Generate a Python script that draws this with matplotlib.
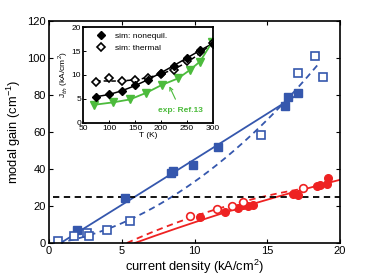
import numpy as np
import matplotlib.pyplot as plt

plt.rcParams["font.family"] = ["Liberation Sans", "DejaVu Sans"]
plt.rcParams["mathtext.fontset"] = "custom"
plt.rcParams["mathtext.rm"] = "Liberation Sans"

BLUE  = "#3557ad"
RED   = "#ee2222"
GREEN = "#4cbb3c"

# main panel: modal gain vs current density
blue_fill_x = [1.9, 5.2, 8.4, 8.55, 9.9, 11.6, 16.2, 16.4, 17.1]
blue_fill_y = [7.0, 24.1, 37.7, 39.1, 42.2, 51.7, 74.0, 78.7, 81.2]
blue_open_x = [0.64, 1.72, 2.63, 2.77, 3.96, 5.57, 14.6, 17.1, 18.3, 18.8]
blue_open_y = [1.1, 3.8, 5.6, 3.8, 7.0, 12.1, 58.4, 92.1, 101.1, 89.9]

red_fill_x = [10.4, 12.1, 13.0, 13.36, 13.7, 14.0, 16.8, 17.13, 18.4, 18.6, 19.08, 19.2]
red_fill_y = [13.9, 16.9, 18.7, 20.5, 20.0, 20.5, 26.5, 25.9, 30.8, 31.5, 31.9, 35.0]
red_open_x = [9.69, 11.52, 12.55, 13.36, 17.48]
red_open_y = [14.6, 18.2, 20.0, 22.3, 29.6]

# transparency points and end of each fit curve
blue_fill_x0, blue_fill_x1 = 0.8, 17.1
blue_open_x0, blue_open_x1 = 0.6, 18.6
red_fill_x0, red_fill_x1 = 5.9, 20.0
red_open_x0, red_open_x1 = 5.35, 17.5

threshold_gain = 25

# inset: threshold current vs temperature
T_sim        = [75, 100, 125, 150, 175, 200, 225, 250, 275, 300]
J_nonequil   = [5.5, 6.0, 6.7, 7.9, 9.0, 10.5, 11.9, 13.5, 15.3, 16.5]
J_thermal    = [8.5, 9.3, 8.8, 8.9, 9.3, 10.2, 11.0, 13.0, 14.8, 16.6]
T_exp        = [72, 108, 140, 172, 201, 233, 255, 275, 298]
J_exp        = [3.8, 4.3, 4.9, 6.3, 7.9, 9.3, 11.0, 12.8, 16.8]


def fit_curve(x, y, x0, x1, deg=2):
    xs = np.r_[x0, x]
    ys = np.r_[0.0, y]
    w = np.r_[10.0, np.ones(len(x))]
    p = np.polyfit(xs, ys, deg, w=w)
    xx = np.linspace(x0, x1, 200)
    return xx, np.polyval(p, xx)


fig = plt.figure(figsize=(3.75, 2.77), dpi=100)
ax = fig.add_axes([0.1307, 0.1227, 0.776, 0.8013])

xx, yy = fit_curve(blue_fill_x, blue_fill_y, blue_fill_x0, blue_fill_x1)
ax.plot(xx, yy, "-", color=BLUE, lw=1.3)
xx, yy = fit_curve(blue_open_x, blue_open_y, blue_open_x0, blue_open_x1)
ax.plot(xx, yy, "--", color=BLUE, lw=1.3, dashes=(3.5, 2.5))
xx, yy = fit_curve(red_fill_x, red_fill_y, red_fill_x0, red_fill_x1)
ax.plot(xx, yy, "-", color=RED, lw=1.3)
xx, yy = fit_curve(red_open_x, red_open_y, red_open_x0, red_open_x1)
ax.plot(xx, yy, "--", color=RED, lw=1.3, dashes=(3.5, 2.5))

ax.plot([0.3, 20], [threshold_gain, threshold_gain], "--", color="black",
        lw=1.3, dashes=(3.5, 2.5))

ax.plot(blue_fill_x, blue_fill_y, "s", ms=5.5, color=BLUE, mec=BLUE)
ax.plot(blue_open_x, blue_open_y, "s", ms=5.5, mfc="white", mec=BLUE, mew=1.2)
ax.plot(red_fill_x, red_fill_y, "o", ms=5.5, color=RED, mec=RED)
ax.plot(red_open_x, red_open_y, "o", ms=5.5, mfc="white", mec=RED, mew=1.2)

ax.set_xlim(0, 20)
ax.set_ylim(0, 120)
ax.set_xticks([0, 5, 10, 15, 20])
ax.set_yticks(range(0, 121, 20))
ax.tick_params(direction="in", top=True, right=True, labelsize=8,
               length=3, width=0.8, pad=2.5)
for s in ax.spines.values():
    s.set_linewidth(1.2)
ax.set_xlabel("current density (kA/cm$^2$)", fontsize=9.3, labelpad=1)
ax.set_ylabel("modal gain (cm$^{-1}$)", fontsize=9.3, labelpad=3)

# inset
ins = fig.add_axes([0.2213, 0.556, 0.3467, 0.3465])
tt = np.linspace(75, 300, 100)
ins.plot(tt, np.polyval(np.polyfit(T_sim, J_nonequil, 3), tt), "-",
         color="black", lw=1.1)
ins.plot(tt, np.polyval(np.polyfit(T_sim, J_thermal, 3), tt), "--",
         color="black", lw=1.1, dashes=(3, 2))
ins.plot(T_exp, J_exp, "-", color=GREEN, lw=1.3)
ins.plot(T_exp, J_exp, "v", ms=5.5, color=GREEN, mec=GREEN)
ins.plot(T_sim, J_thermal, "D", ms=4.5, mfc="white", mec="black", mew=1.2,
         label="sim: thermal")
ins.plot(T_sim, J_nonequil, "D", ms=4.5, color="black",
         label="sim: nonequil.")
h, l = ins.get_legend_handles_labels()
ins.legend(h[::-1], l[::-1], loc="upper left", bbox_to_anchor=(0.064, 0.98),
           frameon=False, fontsize=6, borderaxespad=0,
           handlelength=1.5, handletextpad=1.0, labelspacing=0.45)
ins.annotate("exp: Ref.13", xy=(215, 7.9), xytext=(238, 2.6),
             fontsize=6, color=GREEN, fontweight="bold",
             ha="center", va="center",
             arrowprops=dict(arrowstyle="->", color=GREEN, lw=0.8,
                             shrinkA=4, shrinkB=1))
ins.set_xlim(50, 300)
ins.set_ylim(0, 20)
ins.set_xticks(range(50, 301, 50))
ins.set_yticks(range(0, 21, 5))
ins.tick_params(direction="in", labelsize=6, length=2.5, width=0.7, pad=1.5)
for s in ins.spines.values():
    s.set_linewidth(1.3)
ins.set_xlabel("T (K)", fontsize=6, labelpad=0)
ins.set_ylabel("J$_{th}$ (kA/cm$^2$)", fontsize=6, labelpad=1)

fig.savefig("out.png", dpi=100)
